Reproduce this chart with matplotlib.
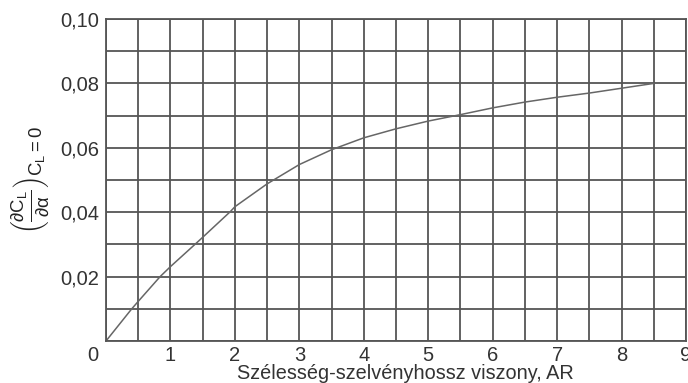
import matplotlib
matplotlib.use('Agg')
import matplotlib.pyplot as plt

# oldalviszony - felhajtóerő-gradiens görbe (leolvasott pontok)
ar = [0, 0.40, 0.5, 0.84, 1.0, 1.38, 1.5, 1.93, 2.0, 2.5, 3.0, 3.5, 4.0, 4.5,
      5.0, 5.5, 6.0, 6.5, 7.0, 7.5, 8.0, 8.5]
dcl = [0, 0.0100, 0.0123, 0.0200, 0.0231, 0.0300, 0.0322, 0.0402, 0.0417, 0.0488,
       0.0548, 0.0594, 0.0631, 0.0659, 0.0683, 0.0703, 0.0724, 0.0742, 0.0757,
       0.0770, 0.0785, 0.0800]

x_ticks = [0, 1, 2, 3, 4, 5, 6, 7, 8, 9]
x_labels = ['', '1', '2', '3', '4', '5', '6', '7', '8', '9']
y_ticks = [0, 0.02, 0.04, 0.06, 0.08, 0.10]
y_labels = ['', '0,02', '0,04', '0,06', '0,08', '0,10']

plt.rcParams['font.family'] = ['Liberation Sans', 'DejaVu Sans']
plt.rcParams['mathtext.fontset'] = 'custom'
plt.rcParams['mathtext.rm'] = 'Liberation Sans'
plt.rcParams['mathtext.it'] = 'Liberation Sans'
plt.rcParams['mathtext.bf'] = 'Liberation Sans:bold'

fig = plt.figure(figsize=(6.88, 3.83), dpi=100)
ax = fig.add_axes([106 / 688, 42 / 383, 580 / 688, 322 / 383])

grid_col = '#555555'
txt_col = '#333333'
fs = 14.5
ax.set_xlim(0, 9)
ax.set_ylim(0, 0.10)
ax.set_xticks([i * 0.5 for i in range(19)], minor=True)
ax.set_yticks([i * 0.01 for i in range(11)], minor=True)
ax.grid(True, which='both', color=grid_col, linewidth=1.3)
ax.set_axisbelow(True)
for s in ax.spines.values():
    s.set_color(grid_col)
    s.set_linewidth(1.3)

ax.plot(ar, dcl, color='#666666', linewidth=1.1)

ax.set_xticks(x_ticks)
ax.set_xticklabels(x_labels, fontsize=fs, color=txt_col)
ax.set_yticks(y_ticks)
ax.set_yticklabels(y_labels, fontsize=fs, color=txt_col)
ax.tick_params(which='both', length=0, pad=5)
ax.tick_params(axis='x', pad=3.5)
ax.text(-0.2, -0.0015, '0', fontsize=fs, color=txt_col, ha='center', va='top')

ax.set_xlabel('Szélesség-szelvényhossz viszony, AR', fontsize=14.3, color=txt_col)
ax.xaxis.set_label_coords(0.516, -0.07)
ax.text(-0.129, 0.50, r'$\left(\frac{\partial C_L}{\partial \alpha}\right)_{C_L = 0}$',
        transform=ax.transAxes, rotation=90, fontsize=19, color='#222222',
        ha='center', va='center')

fig.savefig('out.png', dpi=100)
